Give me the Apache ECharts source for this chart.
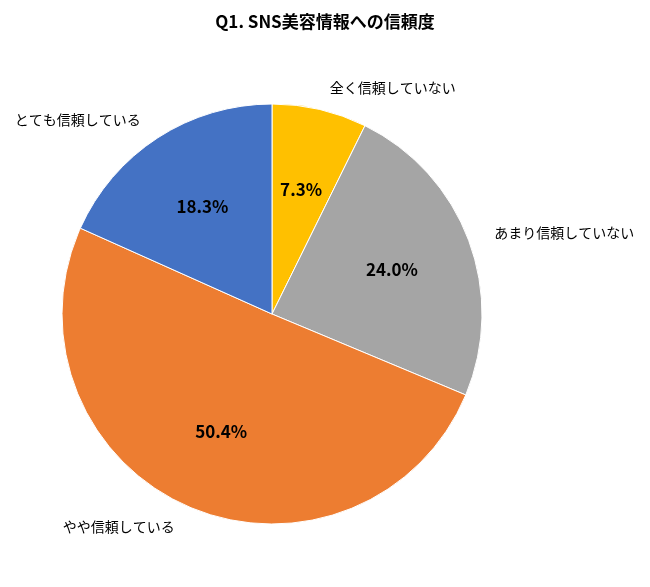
<!DOCTYPE html>
<html><head><meta charset="utf-8">
<script src="https://cdn.jsdelivr.net/npm/echarts@6/dist/echarts.min.js"></script>
<style>html,body{margin:0;background:#fff}#c{width:650px;height:587px}</style>
</head><body><div id="c"></div>
<script>
const categories = ['全く信頼していない', 'あまり信頼していない', 'やや信頼している', 'とても信頼している'];
const values = [7.3, 24.0, 50.4, 18.3];
const colors = ['#FFC000', '#A5A5A5', '#ED7D31', '#4472C4'];

const chart = echarts.init(document.getElementById('c'));
const data = categories.map((n, i) => ({name: n, value: values[i], itemStyle: {color: colors[i]}}));
const font = '"Noto Sans CJK JP", sans-serif';
chart.setOption({
  title: {text: 'Q1. SNS美容情報への信頼度', left: 'center', top: 8,
    textStyle: {fontFamily: font, fontSize: 17, fontWeight: 'bold', color: '#000'}},
  series: [
    {
      type: 'pie', center: [272, 314], radius: 210, startAngle: 90, clockwise: true,
      data: data, animation: false,
      itemStyle: {borderColor: '#fff', borderWidth: 1},
      label: {show: true, position: 'outside', formatter: '{b}', color: '#000', fontFamily: font, fontSize: 14},
      labelLine: {show: false, length: 22, length2: 0}
    },
    {
      type: 'pie', center: [272, 314], radius: 250, startAngle: 90, clockwise: true,
      data: data.map(d => ({name: d.name, value: d.value, itemStyle: {color: 'transparent'}})),
      silent: true, animation: false,
      label: {show: true, position: 'inside', formatter: p => p.value.toFixed(1) + '%',
        color: '#000', fontFamily: font, fontSize: 17, fontWeight: 'bold'},
      labelLine: {show: false}
    }
  ]
});
</script></body></html>
